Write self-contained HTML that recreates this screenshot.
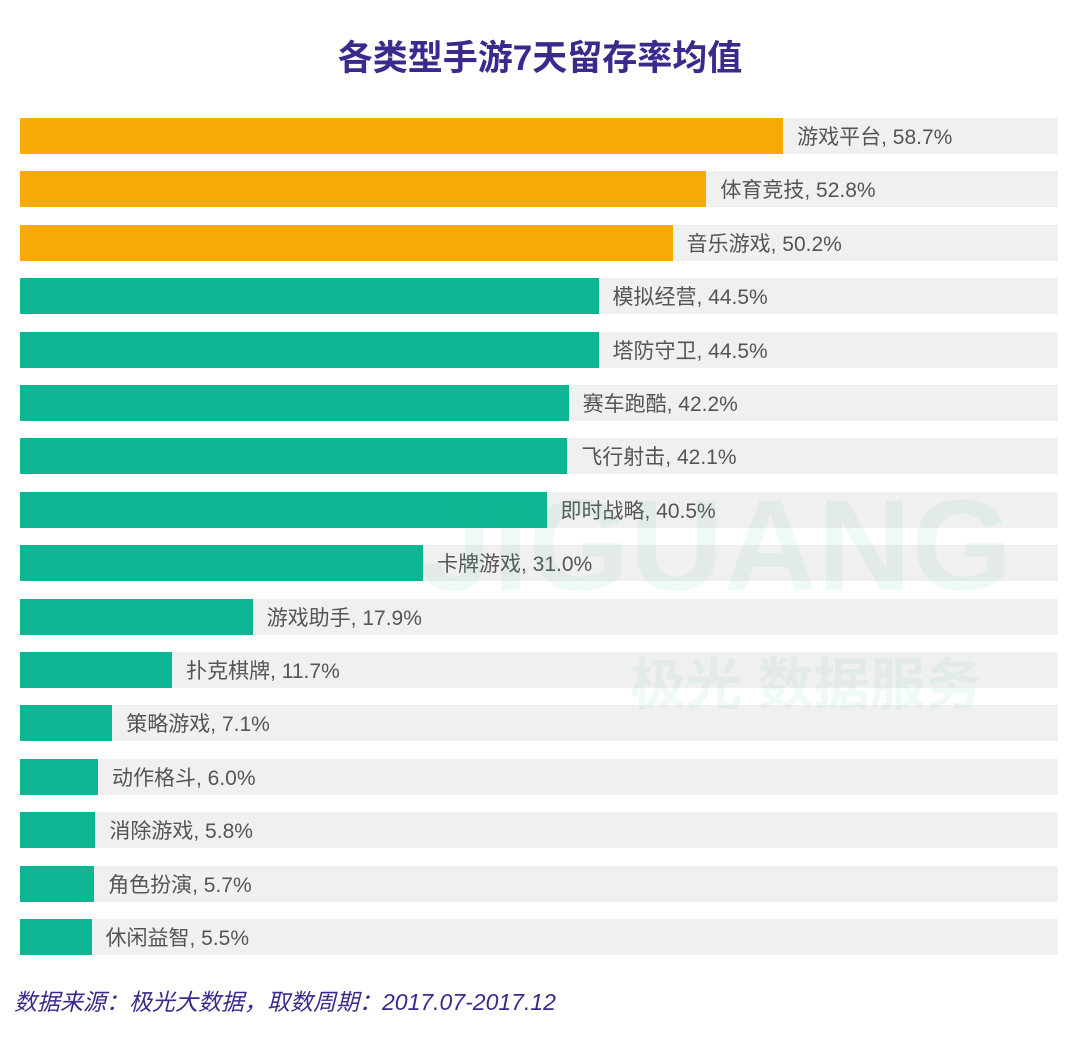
<!DOCTYPE html>
<html><head><meta charset="utf-8"><style>
body{margin:0;width:1080px;height:1056px;background:#fff;position:relative;overflow:hidden;font-family:"Liberation Sans","Noto Sans CJK SC",sans-serif}
.t{position:absolute;top:30px;left:0;width:1080px;text-align:center;font-size:35px;font-weight:bold;color:#3b2a8c}
.bg{position:absolute;left:20px;width:1038px;height:36px;background:#f1f0f0}
.b{position:absolute;left:20px;height:36px}
.l{position:absolute;font-size:21px;color:#555;line-height:40px;white-space:nowrap}
.wm{position:absolute;color:#3cbf8a;opacity:0.08;font-weight:bold;white-space:nowrap}
.f{position:absolute;left:14px;top:983px;font-size:23px;font-style:italic;color:#3b2a8c}
</style></head><body>
<div class="t">各类型手游7天留存率均值</div>
<div id="c"></div>
<div class="wm" style="left:420px;top:470px;font-size:130px">JIGUANG</div>
<div class="wm" style="left:630px;top:640px;font-size:56px">极光 数据服务</div>
<div class="f">数据来源：极光大数据，取数周期：2017.07-2017.12</div>
<script>
var d=[["游戏平台",58.7],["体育竞技",52.8],["音乐游戏",50.2],["模拟经营",44.5],["塔防守卫",44.5],["赛车跑酷",42.2],["飞行射击",42.1],["即时战略",40.5],["卡牌游戏",31.0],["游戏助手",17.9],["扑克棋牌",11.7],["策略游戏",7.1],["动作格斗",6.0],["消除游戏",5.8],["角色扮演",5.7],["休闲益智",5.5]];
var h="";
d.forEach(function(r,i){var y=118+i*53.4,w=r[1]*13;
h+='<div class="bg" style="top:'+y+'px"></div><div class="b" style="top:'+y+'px;width:'+w+'px;background:'+(i<3?'#f9aa09':'#0db593')+'"></div><div class="l" style="top:'+y+'px;left:'+(20+w+14)+'px">'+r[0]+', '+r[1].toFixed(1)+'%</div>';});
document.getElementById("c").innerHTML=h;
</script>
</body></html>
